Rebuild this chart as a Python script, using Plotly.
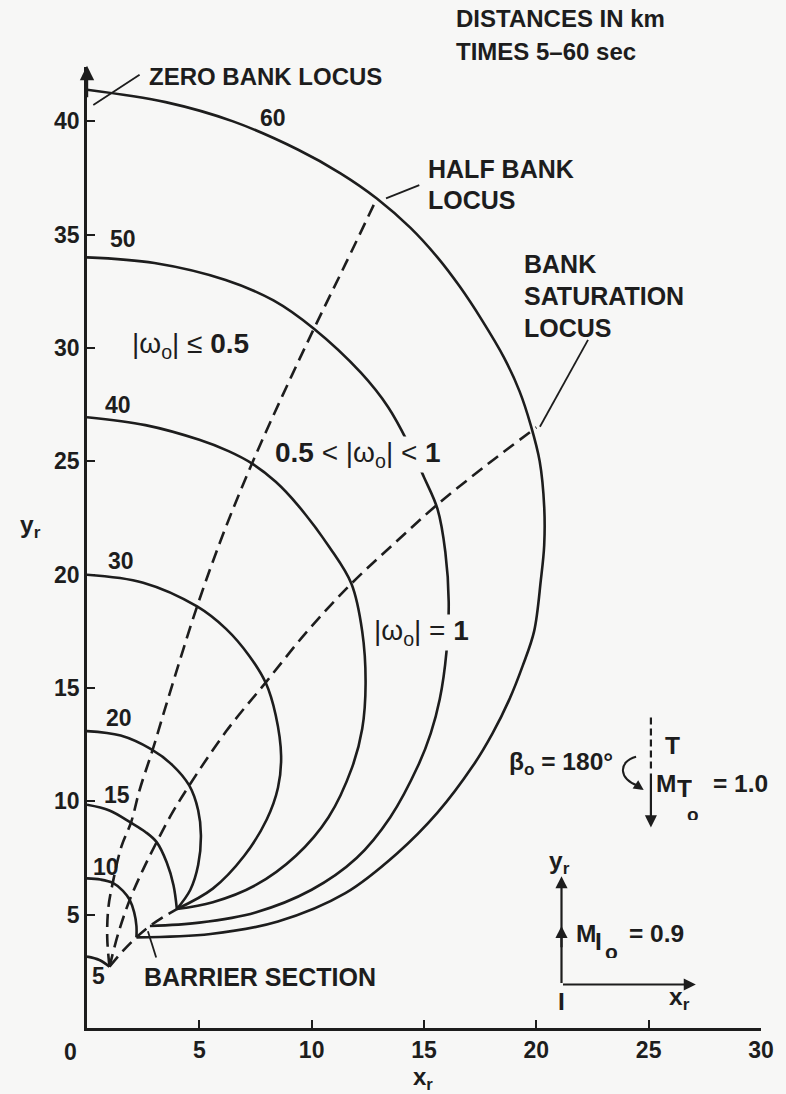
import plotly.graph_objects as go

INK = "#1d1d1d"
BG = "#f7f7f6"
FONT = "Liberation Sans, Arial, Helvetica, sans-serif"

# ---- time contours (t in seconds), points along each contour in km ----
T5_X = [0.0, 0.55, 1.0]
T5_Y = [3.15, 3.0, 2.7]

T10_X = [0.0, 0.6, 1.15, 1.6, 1.9, 2.1, 2.2, 2.2]
T10_Y = [6.6, 6.55, 6.4, 6.05, 5.65, 5.1, 4.5, 4.0]

T15_X = [0.0, 1.0, 1.97, 2.6, 3.1, 3.55, 3.85, 4.0]
T15_Y = [9.85, 9.6, 9.05, 8.65, 8.2, 7.3, 6.3, 5.25]

T20_X = [0.0, 1.5, 2.85, 3.8, 4.55, 4.95, 5.07, 4.95, 4.6, 4.0]
T20_Y = [13.1, 12.9, 12.3, 11.6, 10.7, 9.6, 8.5, 7.2, 6.1, 5.25]

T30_X = [0.0, 2.5, 4.9, 6.2, 7.2, 7.95, 8.4, 8.64, 8.5, 8.0, 7.0, 5.6, 4.0]
T30_Y = [20.0, 19.65, 18.6, 17.6, 16.45, 15.24, 13.8, 12.0, 10.6, 9.2, 7.6, 6.15, 5.25]

T40_X = [0.0, 2.6, 5.0, 6.3, 7.35, 8.4, 9.4, 10.8, 11.77, 12.25, 12.4, 12.25, 11.8, 10.75, 9.3, 7.5, 5.6, 4.0]
T40_Y = [26.95, 26.6, 25.95, 25.45, 24.9, 24.1, 23.05, 21.2, 19.6, 17.5, 15.2, 13.2, 11.5, 9.3, 7.6, 6.3, 5.55, 5.25]

T50_X = [0.0, 3.0, 6.17, 8.3, 10.1, 12.2, 13.4, 14.3, 15.0, 15.6, 15.95, 16.1, 16.0, 15.7, 15.3,
         14.75, 13.5, 12.0, 10.0, 7.5, 5.0, 2.8]
T50_Y = [34.0, 33.75, 33.0, 32.1, 30.85, 28.9, 27.4, 25.8, 24.3, 22.9, 21.0, 18.8, 16.6, 14.5, 13.0,
         11.6, 9.3, 7.5, 6.1, 5.1, 4.65, 4.5]

T60_X = [0.0, 3.5, 6.5, 9.4, 11.3, 12.9, 14.4, 15.6, 16.6, 17.6, 18.55, 19.25, 19.75, 20.15, 20.35,
         20.35, 20.2, 19.9, 19.4, 18.8, 18.05, 17.2, 15.6, 13.8, 11.5, 8.5, 5.5, 2.2]
T60_Y = [41.4, 40.85, 40.0, 38.75, 37.7, 36.6, 35.3, 34.0, 32.7, 31.2, 29.6, 28.1, 26.6, 25.0, 23.0,
         21.3, 19.76, 17.5, 16.0, 14.5, 13.0, 11.6, 9.5, 7.7, 5.95, 4.7, 4.15, 4.0]

TIMES = [5, 10, 15, 20, 30, 40, 50, 60]
TIME_LABEL_X = [0.53, 0.86, 1.35, 1.44, 1.5, 1.39, 1.6, 8.3]
TIME_LABEL_Y = [2.31, 7.1, 10.27, 13.67, 20.6, 27.49, 34.82, 40.15]

# ---- loci (dashed) ----
HALF_BANK_X = [1.0, 0.9, 0.95, 1.16, 1.53, 1.97, 2.34, 2.93, 3.6, 4.9, 6.1, 7.35, 8.7, 10.1, 11.5, 12.9]
HALF_BANK_Y = [2.7, 4.0, 5.3, 6.47, 8.0, 9.1, 10.5, 12.3, 14.5, 18.6, 21.9, 24.92, 27.9, 30.85, 33.7, 36.6]

SATURATION_X = [1.0, 1.4, 1.9, 2.5, 3.1, 3.8, 4.55, 6.2, 7.95, 9.8, 11.77, 13.7, 15.6, 17.8, 20.0]
SATURATION_Y = [2.7, 4.2, 5.65, 7.0, 8.2, 9.5, 10.7, 13.1, 15.24, 17.5, 19.61, 21.4, 23.1, 24.85, 26.5]

BARRIER_X = [1.0, 1.6, 2.2, 2.8, 3.4, 4.0]
BARRIER_Y = [2.7, 3.4, 4.0, 4.5, 4.9, 5.25]

X_TICKS = [5, 10, 15, 20, 25, 30]
Y_TICKS = [5, 10, 15, 20, 25, 30, 35, 40]

contours = {
    5: (T5_X, T5_Y), 10: (T10_X, T10_Y), 15: (T15_X, T15_Y), 20: (T20_X, T20_Y),
    30: (T30_X, T30_Y), 40: (T40_X, T40_Y), 50: (T50_X, T50_Y), 60: (T60_X, T60_Y),
}

fig = go.Figure()

for t in TIMES:
    xs, ys = contours[t]
    fig.add_trace(go.Scatter(
        x=xs, y=ys, mode="lines", name=f"{t} s",
        line=dict(color=INK, width=2.6, shape="spline", smoothing=1.0),
        hoverinfo="skip", showlegend=False))

for name, xs, ys in [("half bank", HALF_BANK_X, HALF_BANK_Y),
                     ("bank saturation", SATURATION_X, SATURATION_Y),
                     ("barrier", BARRIER_X, BARRIER_Y)]:
    fig.add_trace(go.Scatter(
        x=xs, y=ys, mode="lines", name=name,
        line=dict(color=INK, width=2.6, dash="13px,7px", shape="spline", smoothing=1.0),
        hoverinfo="skip", showlegend=False))

ann = []
WORD = 24.5


def text(x, y, s, size=WORD, xanchor="left", weight="bold", bg=None, ref="data", box_h=None):
    a = dict(x=x, y=y, text=s, showarrow=False, xanchor=xanchor, yanchor="middle",
             font=dict(family=FONT, size=size, color=INK, weight=weight))
    if ref == "paper":
        a.update(xref="paper", yref="paper")
    else:
        a.update(xref="x", yref="y")
    if bg:
        a.update(bgcolor=bg, borderpad=0)
    if box_h:
        a.update(height=box_h, valign="middle", borderpad=0)
    ann.append(a)


# contour time labels
for t, lx, ly in zip(TIMES, TIME_LABEL_X, TIME_LABEL_Y):
    text(lx, ly, str(t), size=23, xanchor="center")

# captions
text(0.545, 1.05, "DISTANCES IN km", size=24, ref="paper")
text(0.545, 1.016, "TIMES 5–60 sec", size=24, ref="paper")
text(2.65, 42.0, "ZERO BANK LOCUS", size=24)
text(15.11, 37.9, "HALF BANK", size=25)
text(15.11, 36.55, "LOCUS", size=25)
text(19.36, 33.7, "BANK", size=25)
text(19.36, 32.3, "SATURATION", size=25)
text(19.36, 30.9, "LOCUS", size=25)
text(2.47, 2.25, "BARRIER SECTION", size=25)
text(1.9, 30.1, "|ω<sub>o</sub>| ≤ <b>0.5</b>", size=28, weight="normal")
text(8.31, 25.3, "<b>0.5</b> < |ω<sub>o</sub>| < <b>1</b>", size=28, weight="normal", bg=BG)
text(12.73, 17.45, "|ω<sub>o</sub>| = <b>1</b>", size=28, weight="normal", bg=BG)

# axis titles and the origin label
text(-0.084, 0.522, "y<sub>r</sub>", size=WORD, xanchor="center", ref="paper")
text(0.498, -0.053, "x<sub>r</sub>", size=24, xanchor="center", ref="paper")
text(-0.025, -0.025, "0", size=23, xanchor="center", ref="paper")

# inset: target and interceptor directions (stacked subscripts placed glyph by glyph)
text(26.05, 12.45, "T", size=WORD, xanchor="center")
text(18.69, 11.65, "β<sub>o</sub> = 180°", size=WORD)
text(25.76, 10.8, "M", size=WORD, xanchor="center", box_h=18)
text(26.6, 10.6, "T", size=WORD, xanchor="center", box_h=18)
text(26.96, 9.43, "o", size=19, xanchor="center", box_h=11)
text(29.08, 10.8, "= 1.0", size=WORD, xanchor="center", box_h=18)
text(21.03, 7.3, "y<sub>r</sub>", size=WORD, xanchor="center")
text(22.23, 4.21, "M", size=WORD, xanchor="center", box_h=18)
text(22.78, 3.83, "I", size=WORD, xanchor="center", box_h=18)
text(23.33, 3.36, "o", size=21, xanchor="center", box_h=13)
text(25.36, 4.21, "= 0.9", size=WORD, xanchor="center", box_h=18)
text(26.38, 1.3, "x<sub>r</sub>", size=WORD, xanchor="center")
text(21.12, 1.15, "I", size=WORD, xanchor="center")


def arrow(x, y, ax, ay, head=2, size=1.1, width=2.2):
    ann.append(dict(x=x, y=y, ax=ax, ay=ay, xref="x", yref="y", axref="x", ayref="y",
                    text="", showarrow=True, arrowhead=head, arrowsize=size,
                    arrowwidth=width, arrowcolor=INK))


# y axis arrow
arrow(0, 42.45, 0, 41.0, size=1.2, width=2.4)
# target velocity arrow
arrow(25.1, 8.85, 25.1, 11.3)
# interceptor frame
arrow(21.12, 6.7, 21.12, 1.92)
arrow(21.12, 4.5, 21.12, 3.5)
arrow(27.1, 1.92, 21.12, 1.92)
# curved bank-angle arrow head
arrow(24.78, 10.5, 24.45, 10.72, size=1.0, width=2.0)

shapes = []


def seg(x0, y0, x1, y1, dash="solid", width=1.8):
    shapes.append(dict(type="line", x0=x0, y0=y0, x1=x1, y1=y1, xref="x", yref="y",
                       line=dict(color=INK, width=width, dash=dash)))


# pointer lines for the captions
seg(2.34, 42.06, 0.28, 40.72)
seg(14.79, 37.19, 13.31, 36.6)
seg(22.3, 30.36, 20.16, 26.53)
seg(3.08, 3.11, 2.71, 4.27)
# target line of sight (dashed)
seg(25.1, 13.7, 25.1, 11.3, dash="7px,4px", width=2.2)
# curved arrow for the bank angle
shapes.append(dict(type="path", xref="x", yref="y",
                   path="M 24.44,11.97 C 23.6,11.75 23.7,10.95 24.5,10.7",
                   line=dict(color=INK, width=2.0)))

fig.update_layout(
    width=786, height=1094,
    margin=dict(l=87, r=20, t=67, b=66),
    paper_bgcolor=BG, plot_bgcolor=BG,
    showlegend=False,
    annotations=ann, shapes=shapes,
    xaxis=dict(range=[0, 30], tickvals=X_TICKS, ticks="inside", ticklen=8,
               tickwidth=2, tickcolor=INK, showline=True, linecolor=INK, linewidth=2.6,
               showgrid=False, zeroline=False,
               tickfont=dict(family=FONT, size=23, color=INK, weight="bold")),
    yaxis=dict(range=[0, 42.4], tickvals=Y_TICKS, ticks="inside", ticklen=8,
               tickwidth=2, tickcolor=INK, showline=True, linecolor=INK, linewidth=2.6,
               showgrid=False, zeroline=False,
               tickfont=dict(family=FONT, size=23, color=INK, weight="bold")),
)

fig.write_html("out.html")
